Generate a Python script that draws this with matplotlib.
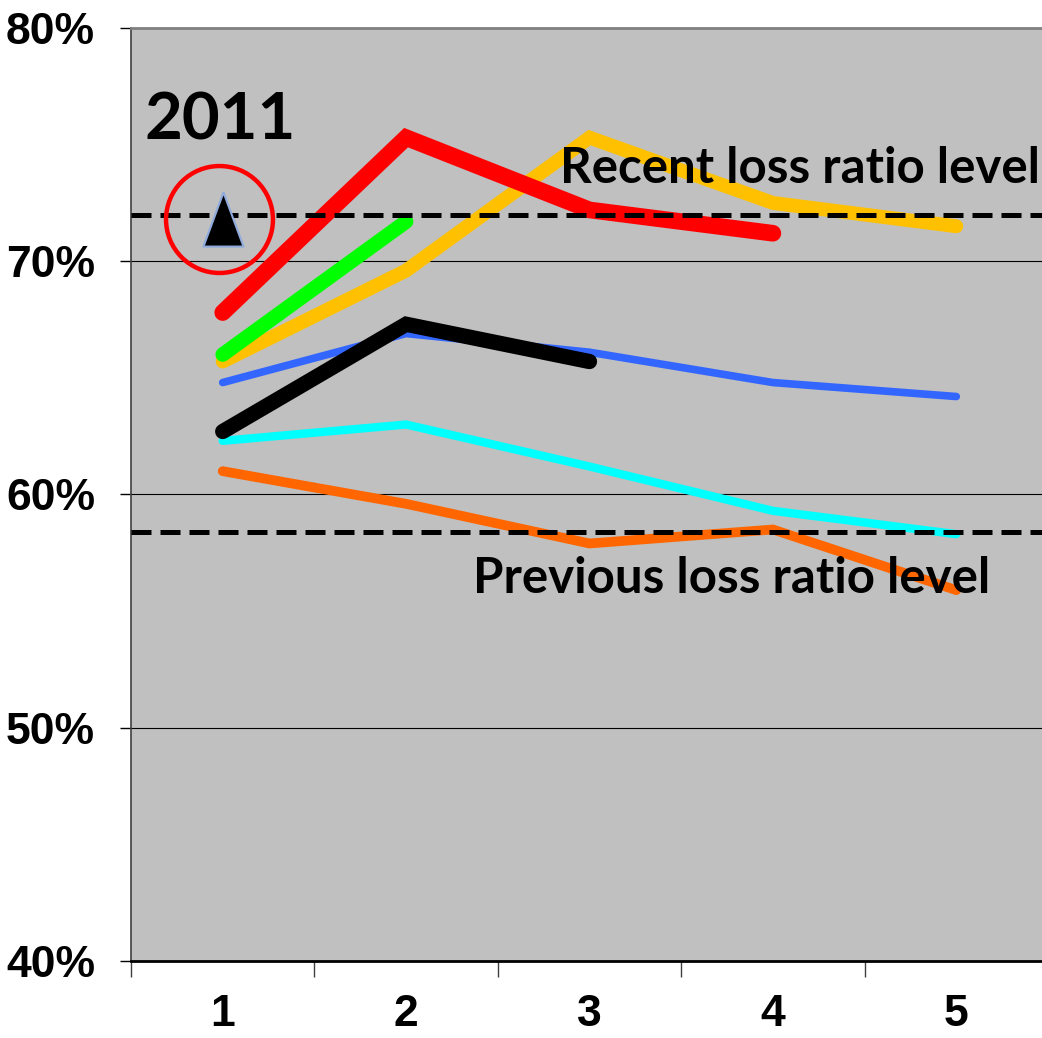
import matplotlib
matplotlib.use("Agg")
import matplotlib.pyplot as plt
from matplotlib.ticker import FixedLocator, NullFormatter

# Development periods (x axis) and loss ratios (%) by accident year cohort
periods = [1, 2, 3, 4, 5]
orange_ratios = [61.0, 59.6, 57.9, 58.5, 55.9]
cyan_ratios = [62.3, 63.0, 61.2, 59.3, 58.3]
blue_ratios = [64.8, 66.9, 66.1, 64.8, 64.2]
gold_ratios = [65.7, 69.6, 75.3, 72.5, 71.5]
green_ratios = [66.0, 71.7]
black_ratios = [62.7, 67.3, 65.7]
red_ratios = [67.8, 75.3, 72.2, 71.2]

# Reference levels
recent_level = 72.0
previous_level = 58.4

# 2011 first-period point
point_2011 = 71.8

y_ticks = [40, 50, 60, 70, 80]
y_tick_labels = ["40%", "50%", "60%", "70%", "80%"]
x_tick_labels = ["1", "2", "3", "4", "5"]

W, H = 1042, 1038
fig = plt.figure(figsize=(W / 100, H / 100), dpi=100)
fig.patch.set_facecolor("white")
ax = fig.add_axes([131 / W, 1 - 961 / H, (1048 - 131) / W, (961 - 28) / H])
ax.set_facecolor("#C0C0C0")
ax.set_xlim(0.5, 5.5)
ax.set_ylim(40, 80)

# Grid lines
for v in [50, 60, 70]:
    ax.axhline(v, color="black", lw=0.8, zorder=1)

series = [
    (orange_ratios, "#FF6600", 7.0, 2),
    (cyan_ratios, "#00FFFF", 6.0, 3),
    (blue_ratios, "#3366FF", 5.5, 4),
    (gold_ratios, "#FFC000", 10.0, 5),
    (green_ratios, "#00FF00", 10.5, 6),
    (black_ratios, "#000000", 11.0, 7),
    (red_ratios, "#FF0000", 12.0, 8),
]
for vals, col, lw, z in series:
    ax.plot(periods[:len(vals)], vals, color=col, lw=lw, zorder=z,
            solid_capstyle="round", solid_joinstyle="miter")

# Reference level dashed lines
for lvl in [recent_level, previous_level]:
    ax.axhline(lvl, color="black", lw=3.6, dashes=(4.0, 1.8), zorder=9)

# 2011 marker with highlight circle
tri = [(0, 1), (-0.74, -1), (0.74, -1), (0, 1)]
ax.plot([1], [point_2011], marker=tri, markersize=39, color="black",
        markeredgecolor="#8FAADC", markeredgewidth=1.5, zorder=10, linestyle="none")
ax.plot([0.98], [point_2011], marker="o", markersize=77, fillstyle="none",
        markeredgecolor="#FF0000", markeredgewidth=3.2, zorder=11, linestyle="none")

label_font = dict(family=["Lato", "DejaVu Sans"], fontweight="bold", color="black")
ax.text(0.576, 75.2, "2011", fontsize=47, ha="left", va="baseline", zorder=12, **label_font)
ax.text(5.456, 73.36, "Recent loss ratio level", fontsize=35.5, ha="right",
        va="baseline", zorder=12, **label_font)
ax.text(5.184, 55.78, "Previous loss ratio level", fontsize=35.5, ha="right",
        va="baseline", zorder=12, **label_font)

# Axes styling
ax.spines["right"].set_visible(False)
ax.spines["top"].set_color("#808080")
ax.spines["top"].set_linewidth(2)
ax.spines["left"].set_color("#404040")
ax.spines["left"].set_linewidth(1.2)
ax.spines["bottom"].set_color("black")
ax.spines["bottom"].set_linewidth(2)

tick_font = dict(family=["Liberation Sans", "DejaVu Sans"], fontweight="bold", size=32)
ax.set_yticks(y_ticks)
ax.set_yticklabels(y_tick_labels, **tick_font)
ax.tick_params(axis="y", direction="out", length=8, width=1, pad=18, color="black")

ax.xaxis.set_major_locator(FixedLocator(periods))
ax.set_xticklabels(x_tick_labels, **tick_font)
ax.xaxis.set_minor_locator(FixedLocator([0.5, 1.5, 2.5, 3.5, 4.5, 5.5]))
ax.xaxis.set_minor_formatter(NullFormatter())
ax.tick_params(axis="x", which="major", length=0, pad=24)
ax.tick_params(axis="x", which="minor", direction="out", length=11.5, width=1, color="#404040")

fig.savefig("out.png", dpi=100, facecolor="white")
